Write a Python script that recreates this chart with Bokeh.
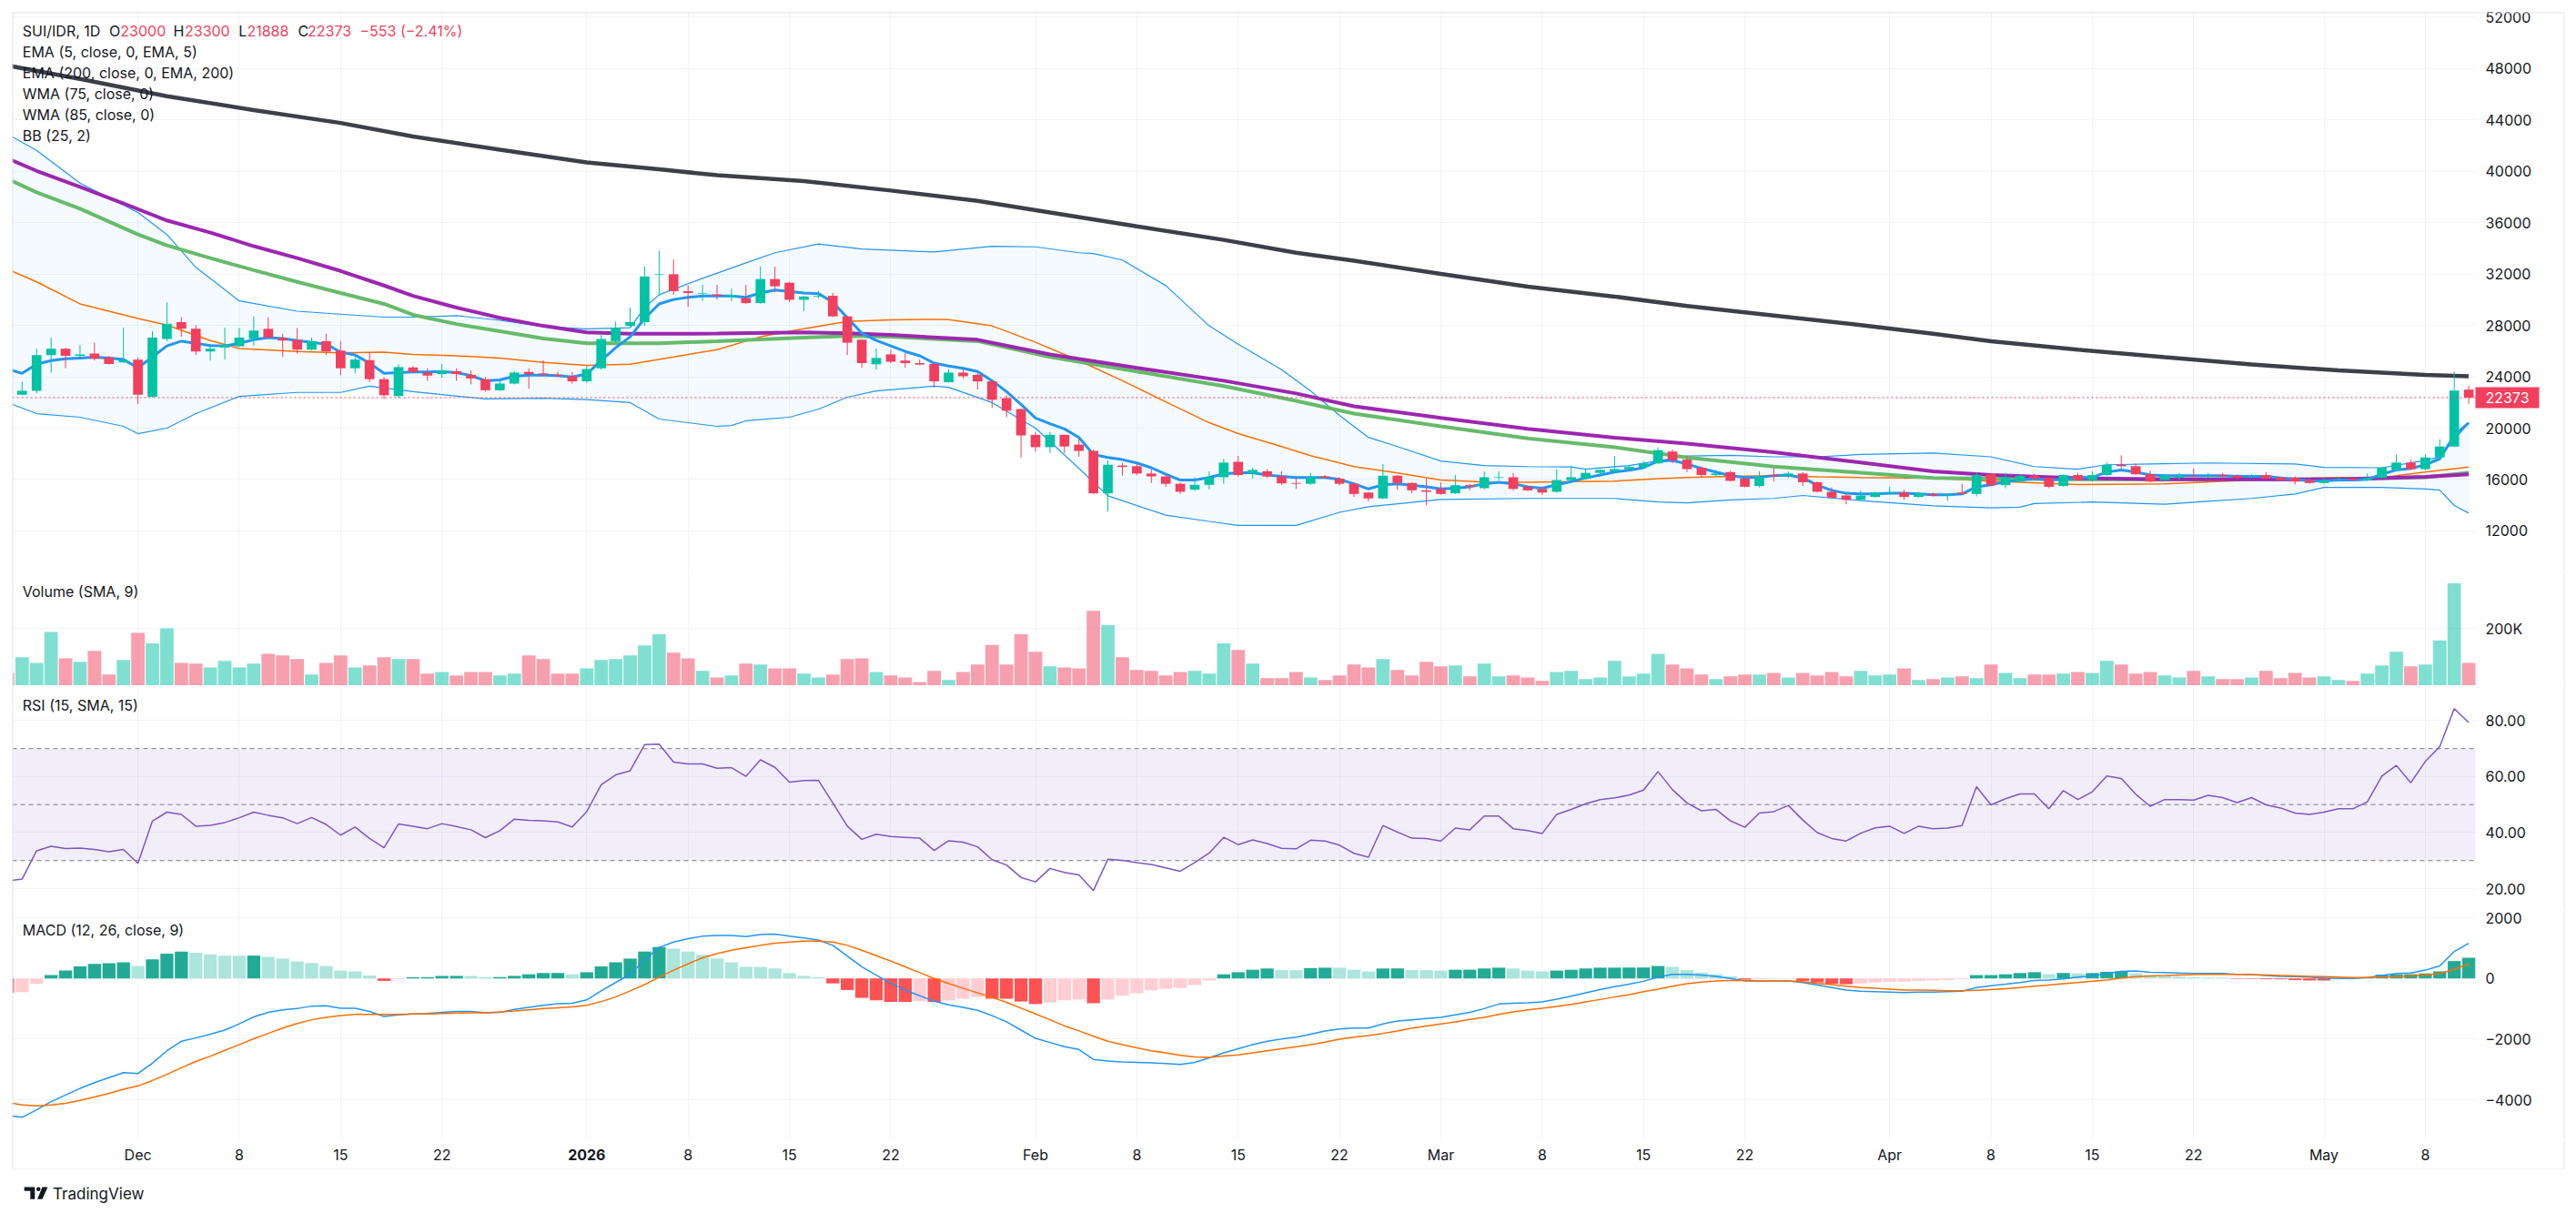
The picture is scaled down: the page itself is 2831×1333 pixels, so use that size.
import numpy as np
from datetime import date
from bokeh.plotting import figure
from bokeh.layouts import column
from bokeh.models import Range1d, FixedTicker, Grid, Span, ColumnDataSource
from bokeh.core.properties import value
from bokeh.embed import file_html
from bokeh.resources import INLINE

# ---------------- SUI/IDR daily candles, 22 Nov 2025 -> 11 May 2026 ----------------
START = date(2025, 11, 22)

opens = [
    23000, 22610, 22900, 25690, 26170, 25630, 25800, 25510, 25120, 25320,
    22440, 26940, 28250, 27730, 25970, 26260, 26370, 26940, 27730, 27020,
    26880, 26110, 26770, 26030, 24660, 25290, 23810, 22500, 24720, 24320,
    24210, 24430, 24150, 23810, 22950, 23470, 24380, 24260, 24150, 24040,
    23640, 24660, 26770, 27960, 28250, 31920, 31970, 30660, 30470, 30410,
    30210, 30120, 29730, 31600, 31320, 29990, 30240, 30300, 28700, 26880,
    24970, 25740, 25260, 25060, 25000, 23580, 24320, 24150, 23640, 22330,
    21480, 19480, 18520, 19480, 18720, 18230, 14930, 17090, 17040, 16470,
    16240, 15670, 15220, 15590, 16180, 17380, 16470, 16640, 16240, 15730,
    15670, 16240, 16070, 15670, 14990, 14530, 16300, 15730, 15160, 15270,
    14930, 15560, 15330, 16130, 16180, 15440, 15270, 15050, 15960, 16070,
    16520, 16640, 16810, 16980, 17260, 18180, 17550, 16920, 16350, 16580,
    16070, 15500, 16350, 16300, 16470, 15790, 15050, 14760, 14420, 14650,
    14930, 14990, 14650, 14880, 14820, 14990, 14880, 16410, 15560, 15840,
    16300, 16130, 15500, 16350, 15960, 16350, 17150, 17040, 16410, 15960,
    16130, 16300, 16240, 16350, 16300, 16240, 16350, 16180, 16130, 15960,
    15730, 15960, 16070, 15960, 16130, 16750, 17320, 16810, 17720, 18570,
    23000]
highs = [
    23300, 23610, 26170, 27050, 26250, 26480, 26650, 25630, 27820, 25510,
    27540, 29780, 28640, 28020, 26540, 27820, 27790, 28700, 28640, 27340,
    27790, 27050, 27340, 26770, 25540, 25910, 23980, 24950, 24830, 24660,
    25000, 24660, 24490, 23980, 23810, 24430, 24660, 25290, 24380, 24380,
    24830, 27340, 28300, 29380, 32570, 33820, 33140, 31090, 31150, 31150,
    30860, 31150, 32570, 32570, 31380, 30290, 30670, 30520, 28760, 26880,
    26200, 26110, 25830, 25340, 25060, 24600, 24600, 24260, 23690, 22560,
    21530, 19710, 19710, 19480, 19200, 18350, 17490, 17290, 17210, 16810,
    16410, 15780, 16180, 16640, 17610, 17830, 16920, 16810, 16640, 16150,
    16520, 16350, 16180, 15730, 15040, 17210, 16350, 15780, 16070, 15780,
    16350, 15670, 16640, 16640, 16520, 15500, 15440, 16810, 17090, 16870,
    16810, 17830, 17150, 17440, 18520, 18350, 17830, 17010, 16750, 16700,
    16120, 16640, 16920, 16640, 16580, 15840, 15390, 14880, 15160, 15040,
    15440, 15210, 15040, 14990, 14880, 15670, 16580, 16520, 16520, 16410,
    16470, 16180, 16410, 16520, 16640, 17320, 17890, 17260, 16690, 16410,
    16520, 16870, 16520, 16520, 16410, 16410, 16580, 16180, 16240, 16130,
    16130, 16130, 16180, 16470, 16980, 17950, 17550, 17950, 19140, 24410,
    23300]
lows = [
    22400, 22560, 22700, 24320, 24660, 25520, 25260, 24950, 25060, 21870,
    22380, 26770, 27110, 25690, 25260, 25340, 26310, 26400, 26970, 25540,
    25800, 26050, 25690, 24120, 24260, 23580, 22270, 22330, 24320, 23690,
    23920, 23690, 23410, 22840, 22900, 23410, 23070, 24040, 23980, 23470,
    23530, 24550, 26680, 27900, 27960, 30300, 30380, 29440, 29900, 30010,
    29900, 29670, 29670, 30580, 29810, 29100, 30100, 28640, 25690, 24690,
    24550, 25060, 24690, 24890, 23180, 23530, 23870, 23010, 21590, 20850,
    17720, 18170, 18060, 18060, 17780, 14870, 13510, 16300, 16350, 15730,
    15440, 14880, 15100, 15220, 15670, 16240, 16070, 16130, 15590, 15270,
    15590, 16070, 15560, 14650, 14310, 14480, 15210, 14930, 14020, 14820,
    14880, 15160, 15240, 15960, 15160, 15100, 14820, 14990, 15900, 16010,
    16410, 16520, 16750, 16860, 17210, 17270, 16580, 16130, 16300, 15840,
    15390, 15390, 15840, 16130, 15500, 14990, 14530, 14080, 14360, 14590,
    14820, 14420, 14590, 14700, 14360, 14870, 14700, 15500, 15330, 15780,
    16010, 15330, 15440, 15900, 15840, 16300, 16860, 16360, 15780, 15840,
    16010, 16190, 16130, 16180, 16070, 16130, 16010, 15900, 15610, 15670,
    15670, 15900, 15900, 15900, 16070, 16700, 16750, 16700, 17660, 18520,
    21888]
closes = [
    22610, 22900, 25690, 26170, 25630, 25740, 25400, 25000, 25290, 22610,
    27050, 28130, 27730, 25970, 26170, 26480, 27050, 27590, 27050, 26820,
    26110, 26770, 25970, 24660, 25340, 23810, 22560, 24750, 24380, 24090,
    24490, 24210, 23870, 22950, 23470, 24320, 24210, 24150, 24040, 23640,
    24600, 26940, 27820, 28250, 31800, 31970, 30660, 30520, 30520, 30300,
    30350, 29730, 31600, 31040, 29990, 30240, 30300, 28700, 26650, 25060,
    25460, 25170, 25060, 24950, 23640, 24320, 24040, 23640, 22210, 21360,
    19430, 18520, 19480, 18570, 18230, 14930, 17150, 16980, 16470, 16240,
    15670, 15050, 15590, 16180, 17320, 16350, 16750, 16240, 15700, 15670,
    16180, 16130, 15670, 14880, 14530, 16300, 15730, 15160, 15050, 14880,
    15560, 15440, 16180, 16180, 15270, 15160, 14990, 15960, 16180, 16520,
    16750, 16810, 16980, 17260, 18290, 17490, 16810, 16350, 16470, 15900,
    15440, 16180, 16240, 16470, 15790, 15050, 14590, 14420, 14760, 14990,
    14990, 14650, 14930, 14760, 14880, 14880, 16350, 15560, 16180, 16300,
    16070, 15440, 16350, 15960, 16350, 17150, 17040, 16410, 15840, 16300,
    16300, 16240, 16300, 16240, 16130, 16300, 16070, 15960, 15840, 15730,
    15960, 16010, 15960, 16130, 16920, 17320, 16810, 17720, 18570, 22926,
    22373]
volume_thousands = [
    45, 100, 80, 188, 96, 84, 122, 39, 90, 185,
    148, 201, 80, 77, 64, 87, 64, 77, 112, 106,
    93, 39, 80, 106, 64, 71, 100, 93, 93, 42,
    48, 36, 48, 48, 36, 42, 106, 93, 42, 42,
    61, 90, 93, 106, 141, 180, 116, 96, 52, 29,
    36, 77, 74, 61, 61, 42, 29, 39, 93, 96,
    48, 36, 29, 13, 52, 20, 48, 74, 143, 74,
    180, 119, 68, 64, 61, 262, 212, 100, 55, 52,
    36, 48, 52, 42, 148, 125, 77, 26, 26, 48,
    29, 20, 36, 74, 64, 93, 55, 36, 84, 68,
    71, 33, 77, 33, 36, 29, 17, 48, 52, 23,
    29, 87, 33, 42, 112, 74, 61, 39, 23, 33,
    39, 39, 45, 29, 45, 36, 48, 33, 52, 36,
    39, 61, 20, 23, 29, 33, 26, 74, 45, 26,
    39, 39, 42, 48, 45, 87, 74, 42, 48, 36,
    29, 52, 33, 23, 23, 29, 52, 26, 45, 29,
    33, 20, 17, 42, 71, 119, 68, 74, 159, 359,
    80]

# EMA 5 (one value per session)
ema5 = [
    24600, 24260, 24980, 25260, 25400, 25460, 25520, 25460, 25340, 24690,
    25540, 26400, 26770, 26600, 26430, 26400, 26600, 26880, 27050, 26970,
    26820, 26680, 26540, 25910, 25690, 25060, 24260, 24320, 24380, 24380,
    24410, 24320, 24090, 23690, 23750, 24040, 24120, 24120, 24090, 23980,
    24210, 25260, 26260, 27110, 28530, 29670, 30010, 30180, 30290, 30290,
    30290, 30180, 30520, 30750, 30640, 30520, 30470, 29810, 28590, 27390,
    26820, 26400, 25970, 25630, 25060, 24830, 24660, 24410, 23690, 22840,
    21850, 20790, 20340, 19940, 19280, 17950, 17720, 17550, 17290, 16920,
    16410, 15960, 15960, 16160, 16440, 16530, 16530, 16350, 16240, 16160,
    16160, 16160, 16010, 15670, 15270, 15590, 15670, 15560, 15440, 15270,
    15330, 15440, 15670, 15790, 15670, 15440, 15330, 15590, 15840, 16130,
    16350, 16580, 16720, 16920, 17440, 17490, 17210, 16870, 16580, 16300,
    16160, 16180, 16300, 16350, 16130, 15560, 15160, 14930, 14880, 14880,
    14930, 14930, 14880, 14820, 14820, 14880, 15440, 15590, 15840, 15960,
    16070, 15960, 16010, 16130, 16180, 16580, 16750, 16580, 16350, 16300,
    16300, 16300, 16300, 16300, 16240, 16240, 16240, 16130, 16010, 15900,
    15900, 15960, 15960, 16010, 16410, 16750, 16870, 17150, 17610, 19430,
    20420]

# Slow averages and bands, read at the listed session offsets
ema200_day = [0, 5, 11, 17, 23, 28, 34, 40, 45, 49, 55, 61, 67, 72, 78, 84, 89, 93, 99,
              105, 111, 116, 122, 128, 133, 137, 143, 149, 155, 161, 167, 170]
ema200 = [48220, 47170, 45830, 44750, 43750, 42700, 41670, 40680, 40140, 39680, 39230,
          38490, 37690, 36780, 35700, 34650, 33650, 33030, 32000, 31010, 30240, 29500,
          28760, 28020, 27340, 26770, 26110, 25520, 24950, 24490, 24150, 24040]

wma85_day = [0, 2, 5, 8, 11, 14, 17, 20, 23, 26, 28, 31, 34, 37, 40, 43, 49, 55, 58, 61,
             67, 72, 78, 84, 89, 93, 99, 105, 111, 116, 122, 128, 133, 137, 143, 149,
             155, 161, 167, 170]
wma85 = [40990, 40020, 38770, 37490, 36160, 35220, 34160, 33230, 32230, 31100, 30290,
         29380, 28590, 27960, 27450, 27340, 27360, 27450, 27390, 27250, 26880, 25740,
         24690, 23690, 22700, 21700, 20790, 19940, 19260, 18800, 18120, 17320, 16640,
         16350, 16100, 16010, 16010, 16010, 16210, 16410]

wma75_day = [0, 2, 5, 9, 11, 14, 17, 20, 23, 26, 28, 31, 34, 37, 40, 45, 49, 55, 58, 61,
             67, 72, 78, 84, 89, 93, 99, 105, 111, 116, 122, 128, 133, 137, 143, 149,
             155, 161, 167, 170]
wma75 = [39400, 38350, 37070, 35070, 34220, 33230, 32290, 31380, 30520, 29670, 28820,
         28100, 27540, 26970, 26600, 26600, 26770, 27050, 27170, 27110, 26770, 25540,
         24410, 23270, 22130, 21130, 20140, 19200, 18520, 17720, 17010, 16530, 16130,
         16070, 16010, 16010, 16010, 16010, 16180, 16530]

bb_mid_day = [0, 2, 5, 9, 11, 14, 16, 20, 23, 26, 28, 31, 34, 37, 40, 43, 46, 49, 52, 55,
              58, 61, 64, 65, 68, 71, 74, 77, 80, 83, 85, 88, 90, 93, 96, 99, 102, 105,
              108, 111, 114, 116, 119, 122, 125, 128, 133, 137, 143, 149, 155, 161, 164,
              167, 170]
bb_mid = [32370, 31380, 29670, 28530, 28020, 26820, 26200, 25970, 25860, 25910, 25740,
          25630, 25460, 25120, 24890, 24980, 25540, 26110, 27110, 27730, 28300, 28420,
          28470, 28440, 27960, 26680, 25260, 23690, 22040, 20420, 19570, 18570, 17860,
          17010, 16520, 15960, 15810, 15780, 15840, 15870, 16070, 16160, 16240, 16300,
          16210, 16160, 16100, 15870, 15610, 15670, 15960, 16160, 16160, 16580, 16980]

bb_up_day = [0, 2, 5, 9, 11, 13, 16, 20, 23, 26, 28, 31, 34, 37, 40, 43, 44, 45, 48, 51,
             53, 56, 59, 64, 68, 71, 74, 75, 77, 80, 83, 85, 88, 90, 92, 94, 96, 99, 102,
             105, 108, 109, 112, 116, 119, 122, 125, 128, 133, 137, 140, 143, 145, 148,
             152, 158, 160, 164, 167, 168, 170]
bb_up = [42870, 41620, 39060, 36780, 35070, 32510, 29900, 29100, 28870, 28640, 28640,
         28760, 28390, 27900, 27730, 27820, 29380, 30380, 31660, 32860, 33650, 34330,
         33940, 33710, 34160, 34110, 33650, 33590, 33080, 31090, 27960, 26540, 24550,
         22900, 20990, 19280, 18570, 17440, 17090, 17010, 16980, 16810, 17090, 17830,
         17890, 17770, 17770, 17950, 18060, 17770, 17010, 16810, 17150, 17210, 17290,
         17210, 16950, 16920, 17490, 17760, 20420]

bb_lo_day = [0, 2, 5, 8, 9, 11, 13, 16, 20, 23, 25, 28, 33, 37, 40, 43, 45, 49, 50, 51,
             54, 56, 58, 60, 64, 65, 68, 71, 74, 76, 80, 83, 85, 89, 92, 94, 99, 105, 111,
             114, 116, 119, 122, 124, 128, 133, 137, 139, 140, 144, 149, 152, 155, 158,
             160, 164, 167, 168, 169, 170]
bb_lo = [21990, 21130, 20850, 20140, 19570, 20000, 21130, 22470, 22780, 22780, 23270,
         22840, 22270, 22330, 22220, 21990, 20710, 20140, 20200, 20570, 20850, 21470,
         22410, 22900, 23270, 23180, 21990, 20000, 16870, 14730, 13230, 12740, 12430,
         12430, 13450, 13880, 14450, 14530, 14530, 14250, 14190, 14420, 14530, 14760,
         14360, 13960, 13790, 13850, 14130, 14250, 14080, 14310, 14530, 14880, 15390,
         15390, 15270, 15170, 13980, 13390]

# RSI (15)
rsi = [
    22.7, 23.4, 33.5, 35.1, 34.3, 34.5, 34.0, 33.2, 34.0, 29.0,
    44.1, 47.3, 46.5, 42.3, 42.6, 43.6, 45.3, 47.3, 46.2, 45.3,
    43.2, 45.4, 42.9, 39.1, 42.0, 37.9, 34.6, 43.1, 42.3, 41.4,
    43.2, 42.2, 41.0, 38.2, 40.7, 44.8, 44.4, 44.2, 43.8, 42.0,
    47.5, 57.1, 60.6, 62.1, 71.4, 71.6, 65.2, 64.5, 64.5, 63.0,
    63.2, 60.1, 66.0, 63.3, 58.0, 58.6, 58.7, 50.6, 42.3, 37.6,
    39.4, 38.6, 38.3, 38.0, 33.6, 37.1, 36.6, 34.9, 30.3, 28.4,
    24.0, 22.4, 27.2, 25.8, 24.9, 19.3, 30.5, 30.1, 29.3, 28.6,
    27.4, 26.2, 29.3, 32.7, 38.3, 35.7, 37.4, 36.1, 34.4, 34.2,
    37.3, 37.0, 35.5, 32.6, 31.2, 42.5, 40.2, 38.0, 37.9, 37.0,
    41.6, 41.0, 45.9, 45.9, 41.4, 40.7, 39.7, 46.5, 48.3, 50.3,
    51.8, 52.4, 53.4, 55.2, 61.8, 55.3, 50.6, 47.8, 48.3, 44.2,
    41.9, 47.0, 47.5, 49.7, 44.5, 40.0, 37.9, 37.0, 39.8, 41.7,
    42.3, 39.7, 42.3, 41.4, 41.6, 42.5, 56.4, 49.9, 52.1, 53.8,
    53.8, 48.5, 55.0, 51.8, 54.6, 60.2, 59.3, 53.7, 49.4, 51.8,
    51.8, 51.6, 53.3, 52.5, 50.7, 52.5, 49.9, 48.8, 47.0, 46.5,
    47.3, 48.5, 48.5, 51.0, 60.2, 64.0, 57.8, 65.4, 70.7, 84.3,
    79.3]

# MACD (12, 26, 9)
macd_line = [
    -4525, -4580, -4334, -4062, -3844, -3626, -3435, -3271, -3108, -3135,
    -2794, -2385, -2072, -1963, -1840, -1704, -1499, -1268, -1118, -1036,
    -995, -913, -900, -981, -981, -1090, -1254, -1199, -1172, -1159,
    -1118, -1090, -1090, -1131, -1118, -1022, -954, -886, -831, -818,
    -709, -409, -136, 136, 613, 1022, 1199, 1308, 1390, 1418,
    1418, 1377, 1445, 1458, 1390, 1336, 1268, 1090, 736, 382,
    109, -164, -382, -572, -750, -872, -954, -1050, -1227, -1431,
    -1704, -1976, -2113, -2249, -2344, -2671, -2726, -2753, -2767, -2781,
    -2808, -2835, -2767, -2617, -2453, -2317, -2181, -2072, -2000, -1935,
    -1840, -1731, -1663, -1636, -1636, -1499, -1404, -1363, -1322, -1281,
    -1199, -1118, -995, -845, -818, -804, -777, -682, -586, -477,
    -368, -273, -191, -95, 41, 136, 136, 109, 68, 0,
    -82, -95, -95, -82, -136, -218, -300, -382, -423, -436,
    -450, -463, -450, -450, -436, -423, -300, -245, -191, -136,
    -68, -55, -14, 41, 82, 164, 232, 245, 204, 191,
    177, 164, 164, 164, 136, 123, 95, 68, 55, 41,
    14, 0, 0, 27, 95, 164, 177, 273, 409, 886,
    1159]
macd_signal = [
    -4089, -4171, -4198, -4171, -4116, -4021, -3912, -3789, -3653, -3544,
    -3367, -3162, -2944, -2740, -2562, -2372, -2181, -1990, -1813, -1636,
    -1486, -1363, -1281, -1227, -1186, -1186, -1186, -1186, -1172, -1172,
    -1159, -1145, -1131, -1131, -1104, -1077, -1036, -995, -968, -940,
    -886, -763, -613, -409, -204, 41, 273, 477, 682, 818,
    927, 1009, 1090, 1159, 1199, 1227, 1227, 1199, 1090, 927,
    750, 572, 382, 191, 0, -164, -327, -477, -627, -791,
    -981, -1172, -1363, -1567, -1731, -1908, -2072, -2181, -2290, -2385,
    -2453, -2535, -2590, -2603, -2562, -2522, -2453, -2385, -2317, -2249,
    -2181, -2099, -2004, -1935, -1881, -1813, -1731, -1636, -1567, -1499,
    -1431, -1349, -1281, -1186, -1104, -1036, -981, -927, -859, -777,
    -695, -613, -532, -436, -354, -259, -177, -123, -82, -68,
    -68, -82, -82, -82, -109, -164, -204, -259, -300, -327,
    -354, -382, -382, -395, -409, -409, -395, -368, -341, -300,
    -259, -218, -177, -136, -95, -55, 14, 55, 82, 95,
    109, 123, 136, 136, 136, 123, 109, 95, 82, 68,
    55, 41, 27, 27, 41, 55, 82, 109, 164, 300,
    477]
macd_hist = [
    -477, -450, -177, 109, 259, 395, 477, 504, 532, 409,
    627, 818, 886, 845, 791, 750, 748, 752, 709, 654,
    559, 504, 409, 259, 232, 95, -82, -27, 41, 43,
    82, 84, 80, 41, 45, 82, 136, 177, 179, 136,
    204, 395, 532, 654, 886, 1036, 981, 886, 777, 654,
    532, 382, 380, 327, 177, 82, 41, -164, -382, -641,
    -722, -777, -779, -750, -777, -722, -668, -613, -668, -670,
    -763, -845, -791, -722, -695, -818, -695, -572, -491, -395,
    -341, -313, -218, -68, 136, 204, 286, 327, 273, 272,
    341, 354, 352, 286, 232, 327, 329, 273, 271, 259,
    286, 288, 327, 354, 327, 259, 232, 259, 286, 327,
    354, 356, 358, 360, 409, 382, 273, 191, 136, 68,
    -41, -27, -14, -10, -82, -136, -177, -191, -164, -136,
    -109, -107, -82, -68, -55, -27, 109, 111, 136, 177,
    204, 136, 177, 164, 177, 218, 232, 164, 109, 82,
    55, 41, 27, 25, -14, -16, -27, -30, -55, -68,
    -70, -27, -14, 41, 123, 136, 138, 164, 232, 572,
    681]

# time axis labels
tick_dates = ["2025-12-01", "2025-12-08", "2025-12-15", "2025-12-22", "2026-01-01",
              "2026-01-08", "2026-01-15", "2026-01-22", "2026-02-01", "2026-02-08",
              "2026-02-15", "2026-02-22", "2026-03-01", "2026-03-08", "2026-03-15",
              "2026-03-22", "2026-04-01", "2026-04-08", "2026-04-15", "2026-04-22",
              "2026-05-01", "2026-05-08"]
tick_labels = ["Dec", "8", "15", "22", "2026", "8", "15", "22", "Feb", "8", "15", "22",
               "Mar", "8", "15", "22", "Apr", "8", "15", "22", "May", "8"]
price_ticks = list(range(12000, 52001, 4000))

# ---------------- styling / geometry ----------------
UP, DOWN = "#00c2a5", "#f23f5e"
TEXT = "#131722"
GRID = "#f0f3fa"
FRAME = "#e0e3eb"
BLUE, ORANGE = "#2196f3", "#ff6d00"
H_UP, H_UP_L, H_DN, H_DN_L = "#22ab94", "#ace5dc", "#ff5252", "#ffcdd2"
FONT = "Inter"

W = 2831
FX0, FX1 = 13, 2818            # frame left / right edge on the page
DAY_PX = 15.91                 # horizontal pixels per session
X_START = (FX0 - 7.9) / DAY_PX
X_END = X_START + (FX1 - FX0) / DAY_PX
X_PLOT_END = (2720 - 7.9) / DAY_PX   # right end of the data area, price scale beyond

tick_days = [(date.fromisoformat(d) - START).days for d in tick_dates]
n = len(closes)
day = np.arange(n)
o, h, l, c = (np.array(a, dtype=float) for a in (opens, highs, lows, closes))
vol = np.array(volume_thousands, dtype=float) * 1000

xr = Range1d(X_START, X_END)


def px_x(px):
    return X_START + (px - FX0) / DAY_PX


def put_text(p, x, y, s, color=TEXT, size="16px", align="left", style="normal"):
    p.text(x=[x], y=[y], text=[s], text_color=color, text_font=value(FONT),
           text_font_size=size, text_align=align, text_baseline="middle",
           text_font_style=style)


def pane(height, y0, y1, top=0, ticks=(), labels=()):
    p = figure(width=W, height=height, x_range=xr, y_range=Range1d(y0, y1),
               x_axis_type=None, y_axis_location="right",
               output_backend="svg", toolbar_location=None,
               min_border_left=FX0, min_border_right=W - FX1,
               min_border_top=top, min_border_bottom=0,
               outline_line_color=None, background_fill_color="white",
               border_fill_color="white")
    ax = p.yaxis[0]
    ax.ticker = FixedTicker(ticks=list(ticks))
    ax.major_label_overrides = dict(zip(ticks, labels))
    ax.axis_line_color = None
    ax.major_tick_line_color = None
    ax.minor_tick_line_color = None
    ax.major_tick_out = 0
    ax.major_tick_in = 0
    ax.major_label_standoff = 2731 - FX1
    ax.major_label_text_font = FONT
    ax.major_label_text_font_size = "16px"
    ax.major_label_text_color = TEXT
    p.ygrid[0].ticker = ax.ticker
    p.ygrid.grid_line_color = GRID
    p.add_layout(Grid(dimension=0, ticker=FixedTicker(ticks=tick_days),
                      grid_line_color=GRID))
    # keep the price-scale strip clean
    p.quad(left=[X_PLOT_END], right=[X_END], bottom=[y0], top=[y1],
           fill_color="white", line_color=None)
    for loc in (X_START, X_END):
        p.add_layout(Span(location=loc, dimension="height", line_color=FRAME, line_width=2))
    return p


# ---------------- price pane ----------------
MAIN_Y0, MAIN_Y1 = 8812, 52361
pm = pane(628, MAIN_Y0, MAIN_Y1, top=13, ticks=price_ticks,
          labels=[str(t) for t in price_ticks])
pm.add_layout(Span(location=MAIN_Y1, dimension="width", line_color=FRAME, line_width=2))
pm.add_layout(Span(location=MAIN_Y0, dimension="width", line_color=FRAME, line_width=1))


def main_y(py):
    return MAIN_Y1 - (py - 13) * (MAIN_Y1 - MAIN_Y0) / 615


# Bollinger band fill and lines
pm.patch(x=bb_up_day + bb_lo_day[::-1], y=bb_up + bb_lo[::-1],
         fill_color=BLUE, fill_alpha=0.05, line_color=None)
pm.line(bb_up_day, bb_up, line_color=BLUE, line_width=1.2)
pm.line(bb_lo_day, bb_lo, line_color=BLUE, line_width=1.2)
pm.line(bb_mid_day, bb_mid, line_color=ORANGE, line_width=1.5)
pm.line(wma75_day, wma75, line_color="#66bb6a", line_width=4)
pm.line(wma85_day, wma85, line_color="#9c27b0", line_width=4)
pm.line(ema200_day, ema200, line_color="#3d3f4b", line_width=4.5)
pm.line(day, ema5, line_color=BLUE, line_width=3)

up = c >= o
cs = ColumnDataSource(dict(x=day, h=h, l=l, top=np.maximum(o, c), bot=np.minimum(o, c),
                           color=np.where(up, UP, DOWN)))
pm.segment(x0="x", y0="h", x1="x", y1="l", line_color="color", line_width=1, source=cs)
pm.vbar(x="x", width=0.67, top="top", bottom="bot", fill_color="color",
        line_color=None, source=cs)

last = closes[-1]
pm.line([X_START, X_PLOT_END], [last, last], line_color=DOWN, line_width=1, line_dash="2 3")
pm.rect(x=[px_x(2755)], y=[last], width=70, height=23, width_units="screen",
        height_units="screen", fill_color=DOWN, line_color=None)
put_text(pm, px_x(2755), last, str(last), color="white", align="center")

chg = closes[-1] - closes[-2]
pct = chg / closes[-2] * 100
sgn = "\u2212" if chg < 0 else "+"
head = [("SUI/IDR, 1D", 24.3, TEXT), ("O", 119.4, TEXT), (str(opens[-1]), 131.8, DOWN),
        ("H", 190.1, TEXT), (str(highs[-1]), 202.5, DOWN), ("L", 261.7, TEXT),
        (str(lows[-1]), 270.9, DOWN), ("C", 327.0, TEXT), (str(closes[-1]), 337.5, DOWN),
        (f"{sgn}{abs(chg)} ({sgn}{abs(pct):.2f}%)", 395.0, DOWN)]
for s, px, col in head:
    put_text(pm, px_x(px), main_y(33.8), s, color=col)
for s, py in [("EMA (5, close, 0, EMA, 5)", 56.7), ("EMA (200, close, 0, EMA, 200)", 79.6),
              ("WMA (75, close, 0)", 102.5), ("WMA (85, close, 0)", 125.4),
              ("BB (25, 2)", 148.7)]:
    put_text(pm, px_x(24.3), main_y(py), s)

# ---------------- volume pane ----------------
VOL_Y1 = 398700
pv = pane(125, 0, VOL_Y1, ticks=[200000], labels=["200K"])
pv.add_layout(Span(location=0, dimension="width", line_color=FRAME, line_width=1))
pv.vbar(x=day, width=0.93, top=vol, bottom=0, fill_color=np.where(up, UP, DOWN),
        fill_alpha=0.5, line_color=None)
put_text(pv, px_x(24.3), VOL_Y1 - (649.6 - 628) * VOL_Y1 / 125, "Volume (SMA, 9)")

# ---------------- RSI pane ----------------
RSI_Y0, RSI_Y1 = 12.2, 92.48
pr = pane(247, RSI_Y0, RSI_Y1, ticks=[20, 40, 60, 80],
          labels=["20.00", "40.00", "60.00", "80.00"])
pr.add_layout(Span(location=RSI_Y0, dimension="width", line_color=FRAME, line_width=1))
pr.quad(left=[X_START], right=[X_PLOT_END], bottom=[30], top=[70],
        fill_color="#7e57c2", fill_alpha=0.1, line_color=None)
for lvl in (70, 50, 30):
    pr.line([X_START, X_PLOT_END], [lvl, lvl], line_color="#787b86", line_width=1,
            line_dash="5 4")
pr.line(day, rsi, line_color="#7e57c2", line_width=1.5)
put_text(pr, px_x(24.3), RSI_Y1 - (774.6 - 753) * (RSI_Y1 - RSI_Y0) / 247,
         "RSI (15, SMA, 15)")

# ---------------- MACD pane ----------------
MACD_Y0, MACD_Y1 = -5319, 2241
pd_ = pane(252, MACD_Y0, MACD_Y1, ticks=[-4000, -2000, 0, 2000],
           labels=["\u22124000", "\u22122000", "0", "2000"])
hist = np.array(macd_hist, dtype=float)
prev = np.concatenate([[hist[0] + 1], hist[:-1]])
hcol = np.where(hist >= 0, np.where(hist >= prev, H_UP, H_UP_L),
                np.where(hist < prev, H_DN, H_DN_L))
pd_.vbar(x=day, width=0.9, top=hist, bottom=0, fill_color=hcol, line_color=None)
pd_.line(day, macd_line, line_color=BLUE, line_width=1.5)
pd_.line(day, macd_signal, line_color=ORANGE, line_width=1.5)
put_text(pd_, px_x(24.3), MACD_Y1 - (1021.5 - 1000) * (MACD_Y1 - MACD_Y0) / 252,
         "MACD (12, 26, close, 9)")

# ---------------- time axis strip ----------------
pt = figure(width=W, height=33, x_range=xr, y_range=Range1d(0, 1),
            x_axis_type=None, y_axis_type=None, output_backend="svg",
            toolbar_location=None, min_border_left=FX0, min_border_right=W - FX1,
            min_border_top=0, min_border_bottom=0, outline_line_color=None)
pt.xgrid.visible = False
pt.ygrid.visible = False
for loc in (X_START, X_END):
    pt.add_layout(Span(location=loc, dimension="height", line_color=FRAME, line_width=2))
pt.add_layout(Span(location=0, dimension="width", line_color=FRAME, line_width=2))
for d, s in zip(tick_days, tick_labels):
    put_text(pt, d, 0.5, s, align="center", style="bold" if s.isdigit() and len(s) == 4 else "normal")

# ---------------- footer with logo ----------------
pf = figure(width=W, height=48, x_range=Range1d(0, W), y_range=Range1d(1333, 1285),
            x_axis_type=None, y_axis_type=None, output_backend="svg",
            toolbar_location=None, min_border_left=0, min_border_right=0,
            min_border_top=0, min_border_bottom=0, outline_line_color=None)
pf.xgrid.visible = False
pf.ygrid.visible = False
pf.patches(xs=[[13.3, 25, 25, 20, 20, 13.3], [33.3, 39.3, 33.3, 27.8]],
           ys=[[1304, 1304, 1317.3, 1317.3, 1308.3, 1308.3], [1304, 1304, 1317.3, 1317.3]],
           fill_color=TEXT, line_color=None)
pf.circle(x=[29.0], y=[1306.2], radius=2.3, fill_color=TEXT, line_color=None)
put_text(pf, 45, 1311, "TradingView", size="17px")

layout = column(pm, pv, pr, pd_, pt, pf, spacing=0)
open("out.html", "w").write(file_html(layout, INLINE, "SUI/IDR 1D"))
